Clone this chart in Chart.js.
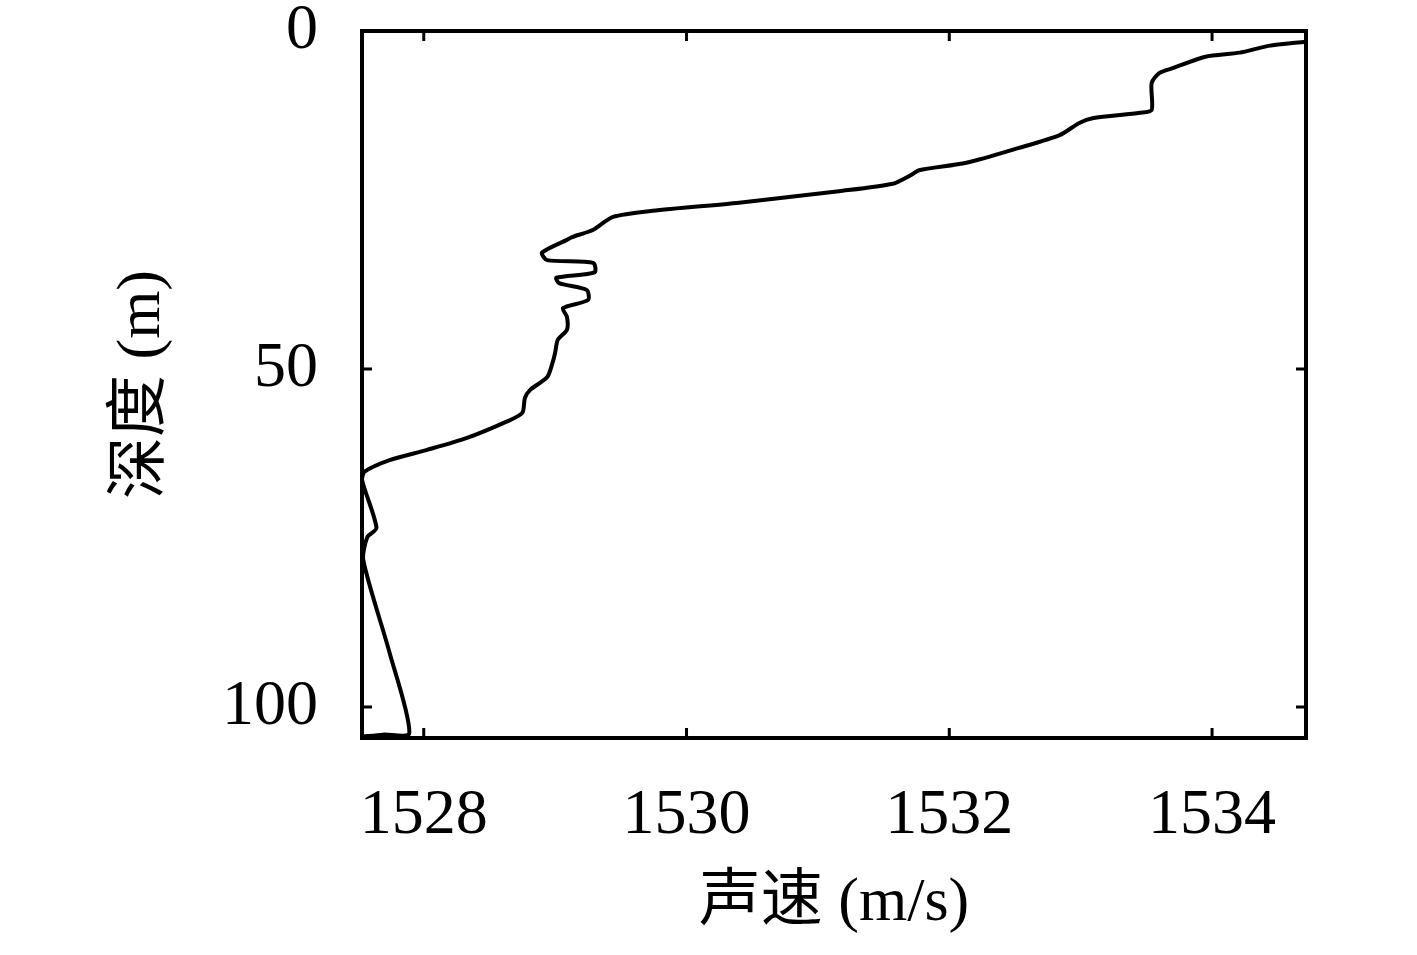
<!DOCTYPE html>
<html lang="zh">

<head>
    <meta charset="UTF-8">
    <title>声速剖面</title>
    <script src="https://cdn.jsdelivr.net/npm/chart.js"></script>
    <style>
        html, body { margin: 0; padding: 0; background: #fff; }
        #wrap { width: 1417px; height: 955px; }
    </style>
</head>

<body>
    <div id="wrap"><canvas id="profileChart" width="1417" height="955"></canvas></div>
    <script>
        // Sound speed (m/s) against depth (m)
        const speed = [
            1534.71, 1534.43, 1534.21, 1533.95, 1533.70, 1533.60, 1533.54, 1533.54, 1533.45, 1533.09,
            1532.99, 1532.84, 1532.53, 1532.13, 1531.77, 1531.71, 1531.57, 1531.16, 1530.40, 1529.74,
            1529.44, 1529.29, 1529.13, 1529.09, 1528.90, 1528.94, 1529.29, 1529.30, 1529.01, 1529.03,
            1529.24, 1529.25, 1529.06, 1529.09, 1529.09, 1529.02, 1529.00, 1528.98, 1528.94, 1528.81,
            1528.77, 1528.75, 1528.63, 1528.33, 1528.02, 1527.74, 1527.55, 1527.53, 1527.64, 1527.57,
            1527.54, 1527.74, 1527.89, 1527.69, 1527.53
        ];
        const depth = [
            1.6, 2.2, 3.2, 3.8, 5.5, 6.2, 7.7, 11.7, 12.1, 12.9,
            13.6, 15.4, 17.3, 19.5, 20.6, 21.3, 22.6, 23.7, 25.4, 26.6,
            27.5, 29.4, 30.5, 30.9, 32.8, 33.9, 34.3, 35.7, 36.5, 37.3,
            38.3, 39.8, 41.0, 42.3, 44.2, 45.7, 47.6, 49.1, 51.2, 53.1,
            54.3, 56.5, 57.8, 60.2, 62.0, 63.5, 65.2, 66.4, 73.5, 74.9,
            78.3, 92.0, 103.9, 104.1, 104.4
        ];
        const speedTicks = [1528, 1530, 1532, 1534];
        const depthTicks = [0, 50, 100];

        const serif = '"Liberation Serif", "Noto Sans CJK SC", serif';

        // Box frame with inward tick marks on all four sides
        const frame = {
            id: 'frame',
            afterDraw(chart) {
                const ctx = chart.ctx;
                const a = chart.chartArea;
                const x = chart.scales.x;
                const y = chart.scales.y;
                const len = 10;
                ctx.save();
                ctx.strokeStyle = '#000';
                ctx.lineWidth = 3;
                ctx.beginPath();
                speedTicks.forEach(v => {
                    const px = x.getPixelForValue(v);
                    ctx.moveTo(px, a.bottom); ctx.lineTo(px, a.bottom - len);
                    ctx.moveTo(px, a.top); ctx.lineTo(px, a.top + len);
                });
                depthTicks.forEach(v => {
                    const py = y.getPixelForValue(v);
                    ctx.moveTo(a.left, py); ctx.lineTo(a.left + len, py);
                    ctx.moveTo(a.right, py); ctx.lineTo(a.right - len, py);
                });
                ctx.stroke();
                ctx.lineWidth = 4;
                ctx.strokeRect(a.left, a.top, a.right - a.left, a.bottom - a.top);
                ctx.restore();
            }
        };

        new Chart(document.getElementById('profileChart'), {
            type: 'scatter',
            data: {
                datasets: [{
                    data: speed.map((s, i) => ({ x: s, y: depth[i] })),
                    showLine: true,
                    borderColor: '#000',
                    borderWidth: 4,
                    pointRadius: 0,
                    tension: 0.25,
                    fill: false
                }]
            },
            options: {
                responsive: false,
                animation: false,
                layout: { padding: { left: 0, right: 111, top: 31, bottom: 0 } },
                plugins: { legend: { display: false }, tooltip: { enabled: false } },
                scales: {
                    x: {
                        type: 'linear',
                        min: 1527.53,
                        max: 1534.715,
                        grid: { display: false, drawTicks: false },
                        border: { display: false },
                        afterFit: s => { s.height = 217; s.paddingLeft = 0; s.paddingRight = 0; },
                        afterBuildTicks: s => { s.ticks = speedTicks.map(v => ({ value: v })); },
                        ticks: {
                            padding: 40,
                            color: '#000',
                            font: { family: serif, size: 64 },
                            callback: v => String(v)
                        },
                        title: {
                            display: true,
                            text: '声速 (m/s)',
                            color: '#000',
                            font: { family: serif, size: 62 },
                            padding: { top: 0, bottom: 14 }
                        }
                    },
                    y: {
                        type: 'linear',
                        reverse: true,
                        min: 0,
                        max: 104.6,
                        grid: { display: false, drawTicks: false },
                        border: { display: false },
                        afterFit: s => { s.width = 362; s.paddingTop = 0; s.paddingBottom = 0; },
                        afterBuildTicks: s => { s.ticks = depthTicks.map(v => ({ value: v })); },
                        ticks: {
                            padding: 44,
                            color: '#000',
                            font: { family: serif, size: 64 },
                            callback: v => String(v)
                        },
                        title: {
                            display: true,
                            text: '深度 (m)',
                            color: '#000',
                            font: { family: serif, size: 62 },
                            padding: { top: 106, bottom: 0 }
                        }
                    }
                }
            },
            plugins: [frame]
        });
    </script>
</body>

</html>
